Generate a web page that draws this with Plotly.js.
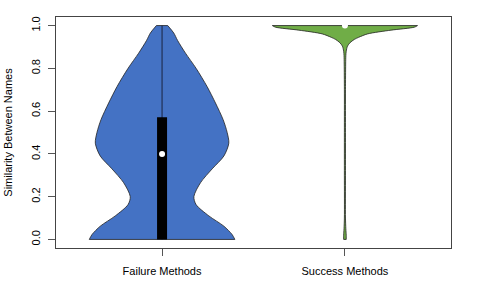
<!DOCTYPE html>
<html>
<head>
<meta charset="utf-8">
<script src="https://cdn.plot.ly/plotly-3.0.1.min.js"></script>
<style>html,body{margin:0;padding:0;background:#fff;}#chart{width:479px;height:281px;}</style>
</head>
<body>
<div id="chart"></div>
<script>
// Category labels and positions
const categories = ["Failure Methods", "Success Methods"];
const positions = [1, 2];
const colors = ["#4472C4", "#70AD47"];

// Density profile (half-width, scaled so max = 0.4)
const failY =     [0.000, 0.023, 0.062, 0.110, 0.163, 0.200, 0.265, 0.330, 0.390, 0.450, 0.500, 0.560, 0.638, 0.715, 0.800, 0.871, 0.930, 0.965, 1.000];
const failWidth = [0.398, 0.383, 0.338, 0.256, 0.186, 0.174, 0.210, 0.274, 0.338, 0.365, 0.356, 0.334, 0.292, 0.246, 0.186, 0.128, 0.085, 0.064, 0.031];

const succY =     [0.000, 0.020, 0.050, 0.100, 0.300, 0.500, 0.700, 0.820, 0.860, 0.880, 0.904, 0.920, 0.935, 0.945, 0.961, 0.9785, 0.9925, 1.000];
const succWidth = [0.007, 0.007, 0.005, 0.003, 0.003, 0.003, 0.003, 0.004, 0.005, 0.007, 0.014, 0.028, 0.051, 0.075, 0.124, 0.252, 0.380, 0.397];

// Box statistics
const q1 = [0.000, 1.000];
const q3 = [0.571, 1.000];
const medians = [0.400, 1.000];
const whiskerLow = [0.000, 1.000];
const whiskerHigh = [1.000, 1.000];

const yTicks = [0, 0.2, 0.4, 0.6, 0.8, 1.0];
const yTickText = ["0.0", "0.2", "0.4", "0.6", "0.8", "1.0"];

const outlineColor = "#222";
const traces = [];
const profiles = [[failY, failWidth], [succY, succWidth]];
profiles.forEach((p, i) => {
  const c = positions[i], ys = p[0], ws = p[1];
  const n = ys.length;
  traces.push({
    type: "scatter", mode: "lines",
    x: ws.map(w => c - w), y: ys,
    line: {color: outlineColor, width: 0.8, shape: "spline", smoothing: 0.8},
    hoverinfo: "skip", showlegend: false
  });
  traces.push({
    type: "scatter", mode: "lines", fill: "tonextx", fillcolor: colors[i],
    x: ws.map(w => c + w), y: ys,
    line: {color: outlineColor, width: 0.8, shape: "spline", smoothing: 0.8},
    hoverinfo: "skip", showlegend: false
  });
  // flat bottom and top edges of the violin
  traces.push({
    type: "scatter", mode: "lines",
    x: [c - ws[0], c + ws[0], null, c - ws[n - 1], c + ws[n - 1]],
    y: [ys[0], ys[0], null, ys[n - 1], ys[n - 1]],
    line: {color: outlineColor, width: 0.8},
    hoverinfo: "skip", showlegend: false
  });
});
// whiskers
positions.forEach((c, i) => {
  traces.push({
    type: "scatter", mode: "lines", x: [c, c], y: [whiskerLow[i], whiskerHigh[i]],
    line: {color: "#1a2440", width: 1}, hoverinfo: "skip", showlegend: false
  });
});
// boxes (thick line from q1 to q3)
positions.forEach((c, i) => {
  if (q3[i] > q1[i]) {
    traces.push({
      type: "scatter", mode: "lines", x: [c, c], y: [q1[i], q3[i]],
      line: {color: "#000", width: 10}, hoverinfo: "skip", showlegend: false
    });
  }
});
// medians
traces.push({
  type: "scatter", mode: "markers", x: positions, y: medians,
  marker: {color: "#fff", size: 6, line: {width: 0}},
  hoverinfo: "skip", showlegend: false
});

const font = {family: "Liberation Sans, Arial, sans-serif", size: 11, color: "#000"};
const layout = {
  width: 479, height: 281,
  margin: {l: 56, r: 28, t: 17, b: 33, pad: 0},
  paper_bgcolor: "#fff", plot_bgcolor: "#fff",
  font: font,
  showlegend: false,
  xaxis: {
    range: [0.42, 2.58], tickvals: positions, ticktext: categories,
    ticks: "outside", ticklen: 7, tickcolor: "#555", tickwidth: 1,
    showline: true, linecolor: "#444", linewidth: 1, mirror: true,
    showgrid: false, zeroline: false, fixedrange: true,
    ticklabelstandoff: 6, tickfont: font
  },
  yaxis: {
    range: [-0.04, 1.04], tickvals: yTicks, ticktext: yTickText,
    ticks: "outside", ticklen: 7, tickcolor: "#555", tickwidth: 1, tickangle: -90,
    showline: true, linecolor: "#444", linewidth: 1, mirror: true,
    showgrid: false, zeroline: false, fixedrange: true,
    ticklabelstandoff: 4, tickfont: font,
    title: {text: "Similarity Between Names", font: font, standoff: 14}
  }
};
Plotly.newPlot("chart", traces, layout, {staticPlot: true, displayModeBar: false});
</script>
</body>
</html>
